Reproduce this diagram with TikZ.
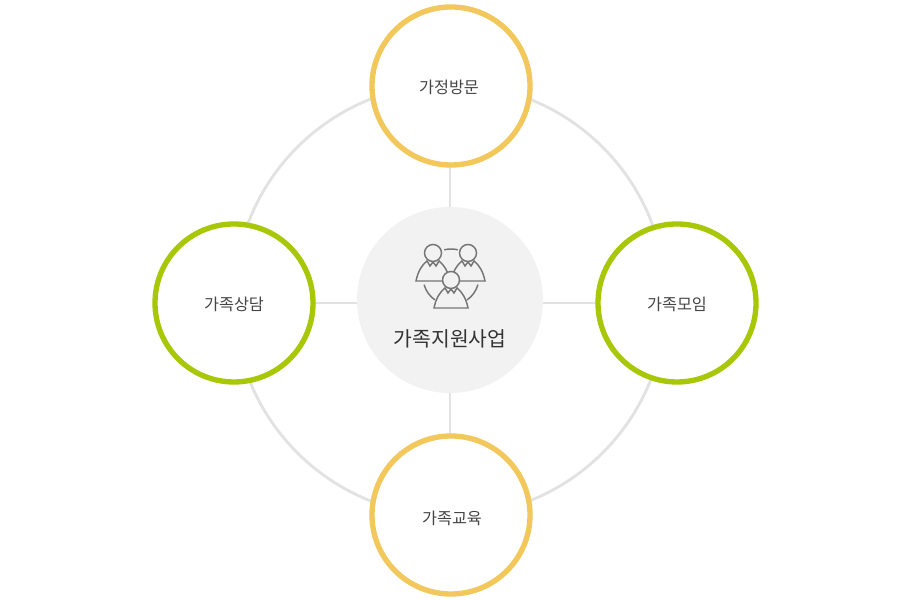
\documentclass[tikz,border=0pt]{standalone}
\usepackage{fontspec}
\setmainfont{Noto Sans CJK KR}
\usetikzlibrary{backgrounds}
\definecolor{ringgray}{HTML}{E2E2E2}
\definecolor{hubgray}{HTML}{F2F2F2}
\definecolor{icongray}{HTML}{757575}
\definecolor{sunyellow}{HTML}{F2C75C}
\definecolor{leafgreen}{HTML}{A8C706}
\definecolor{labelgray}{HTML}{454545}
\tikzset{
  member/.pic={
    \draw[icon line,fill=hubgray] (-17,-28) .. controls (-15,-18) and (-11,-12) .. (-6,-8)
      -- (-3,-13) -- (0,-9) -- (3,-13) -- (6,-8) .. controls (11,-12) and (15,-18) .. (17,-28) -- cycle;
    \draw[icon line,fill=hubgray] (0,0) circle (8.5);
  }
}
\begin{document}
\begin{tikzpicture}[x=0.03cm,y=0.03cm,
    icon line/.style={draw=icongray,line width=1.25pt},
    main node/.style={circle,draw,fill=white,line width=0.16cm,minimum size=158*0.03cm,inner sep=0pt,outer sep=0pt},
    yellow node/.style={main node,draw=sunyellow},
    green node/.style={main node,draw=leafgreen},
    small label/.style={text=labelgray,font=\fontsize{13.9pt}{15pt}\selectfont},
    link/.style={draw=ringgray,line width=1.6pt}]
  \useasboundingbox (0,0) rectangle (900,600);
  \node[circle,fill=hubgray,inner sep=0pt,minimum size=186*0.03cm] (hub) at (450,300) {};
  \node[yellow node] (visit) at (451,514) {};
  \node[green node] (counsel) at (234,297) {};
  \node[green node] (meeting) at (677,297) {};
  \node[yellow node] (edu) at (451,85) {};
  \node[small label] (visitlabel) at (449,513) {가정방문};
  \node[small label] (counsellabel) at (234,296) {가족상담};
  \node[small label] (meetinglabel) at (677,296) {가족모임};
  \node[small label] (edulabel) at (452,82) {가족교육};
  \node[text=black!80,font=\fontsize{17.4pt}{19pt}\selectfont] (hublabel) at (450,261) {가족지원사업};
  \begin{scope}[on background layer]
    \fill[white] (0,0) rectangle (900,600);
    \node[circle,draw=ringgray,line width=2.4pt,inner sep=0pt,minimum size=432*0.03cm] (ring) at (450,300) {};
    \draw[link] (hub) -- (hub |- visit);
    \draw[link] (counsel) -- (counsel -| hub);
    \draw[link] (meeting) -- (meeting -| hub);
    \draw[link] (hub) -- (hub |- edu);
  \end{scope}
  % icon
  \draw[icon line] (451,323) ++(76:28) arc (76:104:28);
  \draw[icon line] (451,323) ++(196:28) arc (196:235:28);
  \draw[icon line] (451,323) ++(305:28) arc (305:344:28);
  \pic at (433,347) {member};
  \pic at (468,347) {member};
  \pic at (451,320) {member};
\end{tikzpicture}
\end{document}
